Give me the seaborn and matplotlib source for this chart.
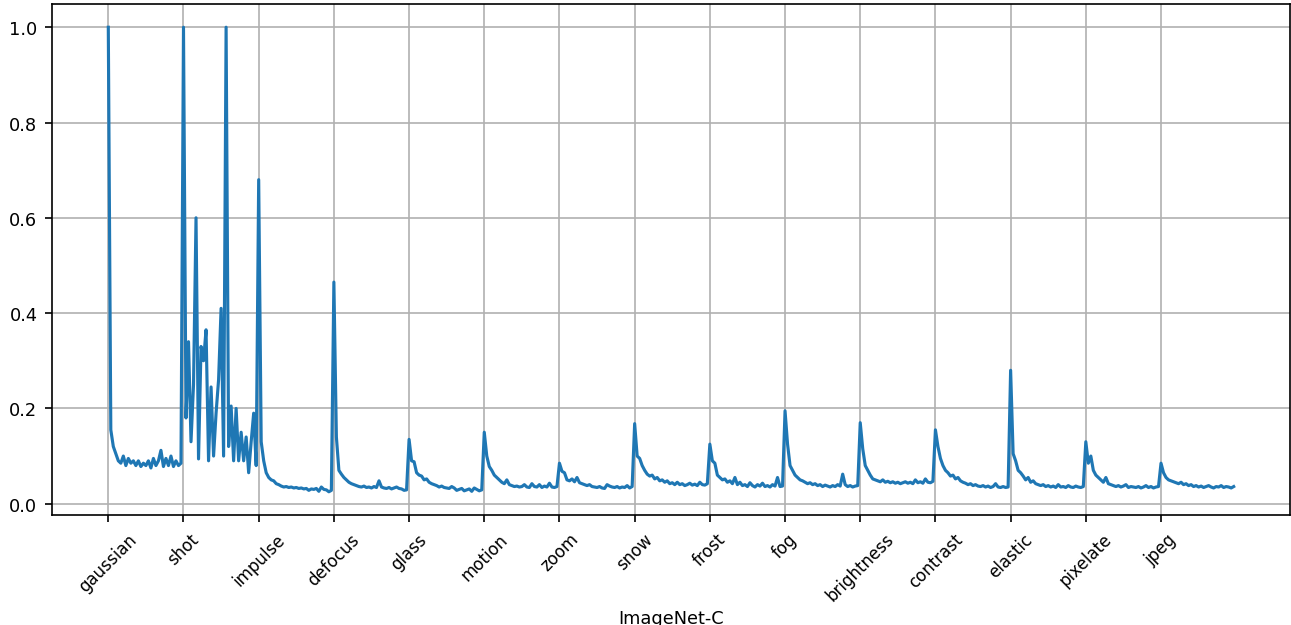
import numpy as np
import pandas as pd
import seaborn as sns
import matplotlib
matplotlib.use("Agg")
import matplotlib.pyplot as plt

# nomes das corrupcoes (eixo x)
corrupcoes = ['gaussian', 'shot', 'impulse', 'defocus', 'glass', 'motion', 'zoom',
              'snow', 'frost', 'fog', 'brightness', 'contrast', 'elastic', 'pixelate', 'jpeg']

# valores, 30 pontos por corrupcao
gaussian = [1.0, 0.155, 0.12, 0.105, 0.09, 0.085, 0.1, 0.08, 0.095, 0.085, 0.09, 0.08, 0.09, 0.078, 0.085,
            0.08, 0.09, 0.075, 0.095, 0.08, 0.09, 0.112, 0.078, 0.095, 0.08, 0.1, 0.078, 0.09, 0.08, 0.085]
shot = [1.0, 0.18, 0.34, 0.13, 0.25, 0.6, 0.094, 0.33, 0.3, 0.365, 0.09, 0.245, 0.1, 0.19, 0.26,
        0.41, 0.1, 1.0, 0.12, 0.205, 0.09, 0.2, 0.09, 0.15, 0.09, 0.14, 0.065, 0.13, 0.19, 0.08]
impulse = [0.68, 0.13, 0.09, 0.065, 0.055, 0.05, 0.048, 0.042, 0.04, 0.037, 0.035, 0.036, 0.034, 0.035, 0.033,
           0.034, 0.032, 0.033, 0.031, 0.032, 0.028, 0.031, 0.03, 0.032, 0.026, 0.035, 0.03, 0.029, 0.025, 0.028]
defocus = [0.465, 0.14, 0.07, 0.062, 0.055, 0.05, 0.045, 0.042, 0.04, 0.038, 0.036, 0.035, 0.037, 0.034, 0.035,
           0.033, 0.036, 0.034, 0.048, 0.035, 0.033, 0.032, 0.034, 0.031, 0.033, 0.035, 0.032, 0.031, 0.028, 0.029]
glass = [0.135, 0.09, 0.088, 0.065, 0.06, 0.058, 0.05, 0.052, 0.045, 0.042, 0.04, 0.038, 0.035, 0.037, 0.034,
         0.033, 0.032, 0.036, 0.033, 0.028, 0.03, 0.032, 0.027, 0.029, 0.031, 0.026, 0.033, 0.03, 0.027, 0.029]
motion = [0.15, 0.1, 0.078, 0.07, 0.06, 0.055, 0.05, 0.045, 0.042, 0.05, 0.04, 0.038, 0.036, 0.037, 0.035,
          0.036, 0.04, 0.035, 0.034, 0.042, 0.036, 0.035, 0.04, 0.034, 0.037, 0.035, 0.043, 0.035, 0.034, 0.036]
zoom = [0.085, 0.068, 0.065, 0.05, 0.048, 0.052, 0.046, 0.055, 0.044, 0.042, 0.04, 0.038, 0.04, 0.036, 0.035,
        0.034, 0.036, 0.033, 0.032, 0.04, 0.037, 0.035, 0.034, 0.036, 0.033, 0.035, 0.034, 0.038, 0.033, 0.036]
snow = [0.168, 0.1, 0.095, 0.08, 0.07, 0.062, 0.058, 0.06, 0.052, 0.055, 0.048, 0.05, 0.045, 0.048, 0.042,
        0.044, 0.04, 0.045, 0.04, 0.042, 0.038, 0.04, 0.043, 0.039, 0.041, 0.038, 0.045, 0.04, 0.039, 0.042]
frost = [0.125, 0.09, 0.085, 0.06, 0.055, 0.05, 0.052, 0.045, 0.048, 0.042, 0.055, 0.04, 0.045, 0.038, 0.04,
         0.036, 0.044, 0.038, 0.035, 0.04, 0.037, 0.043, 0.036, 0.038, 0.035, 0.04, 0.037, 0.055, 0.036, 0.037]
fog = [0.195, 0.125, 0.08, 0.07, 0.06, 0.055, 0.05, 0.048, 0.045, 0.042, 0.044, 0.04, 0.042, 0.038, 0.04,
       0.036, 0.039, 0.037, 0.035, 0.038, 0.036, 0.04, 0.037, 0.062, 0.04, 0.036, 0.038, 0.035, 0.037, 0.038]
brightness = [0.17, 0.115, 0.08, 0.07, 0.06, 0.052, 0.05, 0.048, 0.046, 0.05, 0.045, 0.047, 0.044, 0.046, 0.043,
              0.045, 0.042, 0.044, 0.046, 0.043, 0.045, 0.042, 0.05, 0.044, 0.046, 0.043, 0.052, 0.045, 0.044, 0.047]
contrast = [0.155, 0.12, 0.095, 0.08, 0.07, 0.065, 0.058, 0.06, 0.052, 0.055, 0.048, 0.045, 0.043, 0.04, 0.042,
            0.038, 0.04, 0.037, 0.036, 0.038, 0.035, 0.037, 0.034, 0.036, 0.042, 0.035, 0.034, 0.036, 0.034, 0.035]
elastic = [0.28, 0.105, 0.09, 0.07, 0.065, 0.058, 0.05, 0.055, 0.045, 0.048, 0.042, 0.04, 0.038, 0.04, 0.036,
           0.038, 0.035, 0.037, 0.034, 0.04, 0.035, 0.036, 0.034, 0.038, 0.035, 0.034, 0.037, 0.035, 0.034, 0.036]
pixelate = [0.13, 0.085, 0.1, 0.07, 0.06, 0.055, 0.05, 0.045, 0.055, 0.042, 0.04, 0.038, 0.036, 0.038, 0.035,
            0.037, 0.04, 0.034, 0.036, 0.035, 0.034, 0.036, 0.033, 0.035, 0.038, 0.034, 0.036, 0.033, 0.035, 0.036]
jpeg = [0.085, 0.065, 0.055, 0.05, 0.048, 0.046, 0.044, 0.042, 0.045, 0.04, 0.042, 0.038, 0.04, 0.036, 0.038,
        0.035, 0.037, 0.034, 0.036, 0.038, 0.035, 0.033, 0.036, 0.035, 0.038, 0.034, 0.036, 0.035, 0.033, 0.036]

series = [gaussian, shot, impulse, defocus, glass, motion, zoom, snow, frost, fog,
          brightness, contrast, elastic, pixelate, jpeg]
n_pontos = len(gaussian)

valores = np.concatenate(series)
dados = pd.DataFrame({'passo': np.arange(len(valores)), 'valor': valores})

plt.rcParams['font.size'] = 8.5
plt.rcParams['xtick.labelsize'] = 8
plt.rcParams['ytick.labelsize'] = 8.5

# Plotando o grafico
fig = plt.figure(figsize=(1291 / 150, 626 / 150), dpi=150)
ax = sns.lineplot(x='passo', y='valor', data=dados, linewidth=1.5)
ax.set_xticks([i * n_pontos for i in range(len(corrupcoes))])
ax.set_xticklabels(corrupcoes, rotation=45)
ax.set_xlabel('ImageNet-C', labelpad=2)
ax.set_ylabel('')
ax.grid(True)

plt.subplots_adjust(left=0.0403, right=0.9992, top=0.992, bottom=0.1757)
plt.savefig('out.png', dpi=150)
